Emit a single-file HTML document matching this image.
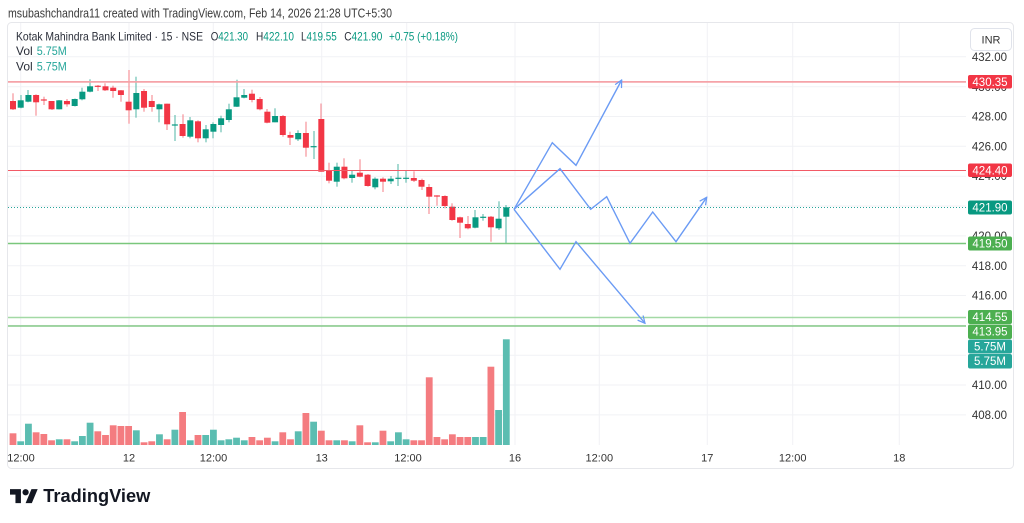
<!DOCTYPE html>
<html>
<head>
<meta charset="utf-8">
<style>
  html,body{margin:0;padding:0;background:#fff;}
  body{width:1024px;height:523px;overflow:hidden;}
  svg{display:block;font-family:"Liberation Sans",sans-serif;}
</style>
</head>
<body>
<svg id="c" width="1024" height="523" viewBox="0 0 1024 523" xmlns="http://www.w3.org/2000/svg">
  <defs>
    <marker id="ah" viewBox="0 0 10 10" refX="9" refY="5" markerWidth="9" markerHeight="9" markerUnits="userSpaceOnUse" orient="auto">
      <path d="M1,1 L9,5 L1,9" fill="none" stroke="#6b9bf4" stroke-width="1.4"/>
    </marker>
  </defs>
  <rect width="1024" height="523" fill="#fff"/>

  <!-- header -->
  <text x="8" y="17.5" font-size="12.5" fill="#3a3a3a" textLength="384" lengthAdjust="spacingAndGlyphs">msubashchandra11 created with TradingView.com, Feb 14, 2026 21:28 UTC+5:30</text>

  <!-- frame -->
  <rect x="7.5" y="22.5" width="1006" height="446" rx="4" fill="none" stroke="#e6e7eb" stroke-width="1"/>

  <!-- grid -->
  <g id="grid" stroke="#f1f2f5" stroke-width="1"></g>

  <!-- volume + candles -->
  <g id="vol"></g>
  <g id="candles"></g>

  <!-- price lines -->
  <line x1="8" y1="81.9" x2="966" y2="81.9" stroke="#f5a3a8" stroke-width="1.8"/>
  <line x1="8" y1="170.5" x2="966" y2="170.5" stroke="#f25a66" stroke-width="1"/>
  <line x1="8" y1="207.5" x2="966" y2="207.5" stroke="#26a69a" stroke-width="1" stroke-dasharray="1,2"/>
  <line x1="8" y1="243.5" x2="966" y2="243.5" stroke="#7ac77c" stroke-width="1.5"/>
  <line x1="8" y1="317.5" x2="966" y2="317.5" stroke="#a3d9a5" stroke-width="1.5"/>
  <line x1="8" y1="326" x2="966" y2="326" stroke="#6cbf6f" stroke-width="1.2"/>

  <!-- projection paths -->
  <g fill="none" stroke="#6b9bf4" stroke-width="1.4" stroke-linejoin="miter">
    <polyline points="514,209.3 552.3,142.7 576,165.3 621.7,80" marker-end="url(#ah)"/>
    <polyline points="514,209.3 560,168.7 590.7,209.3 606.7,196.7 630,243.3 652.7,212 676,241.7 706.7,197.3" marker-end="url(#ah)"/>
    <polyline points="514,209.3 560,269.3 576,241.7 645,323.3" marker-end="url(#ah)"/>
  </g>

  <!-- legend -->
  <g font-size="12" fill="#2a2e39">
    <text x="16" y="40.5" textLength="187" lengthAdjust="spacingAndGlyphs">Kotak Mahindra Bank Limited · 15 · NSE</text>
    <text x="210.7" y="40.5" textLength="37.3" lengthAdjust="spacingAndGlyphs">O<tspan fill="#089981">421.30</tspan></text>
    <text x="256" y="40.5" textLength="38" lengthAdjust="spacingAndGlyphs">H<tspan fill="#089981">422.10</tspan></text>
    <text x="301" y="40.5" textLength="35.7" lengthAdjust="spacingAndGlyphs">L<tspan fill="#089981">419.55</tspan></text>
    <text x="344.3" y="40.5" textLength="38" lengthAdjust="spacingAndGlyphs">C<tspan fill="#089981">421.90</tspan></text>
    <text x="389" y="40.5" fill="#089981" textLength="69" lengthAdjust="spacingAndGlyphs">+0.75 (+0.18%)</text>
    <text x="16" y="55">Vol</text>
    <text x="36.7" y="55" fill="#26a69a" textLength="30" lengthAdjust="spacingAndGlyphs">5.75M</text>
    <text x="16" y="70.5">Vol</text>
    <text x="36.7" y="70.5" fill="#26a69a" textLength="30" lengthAdjust="spacingAndGlyphs">5.75M</text>
  </g>

  <!-- price axis labels -->
  <g font-size="11.5" fill="#333" text-anchor="end">
    <text x="1007" y="61">432.00</text>
    <text x="1007" y="90.8">430.00</text>
    <text x="1007" y="120.6">428.00</text>
    <text x="1007" y="150.4">426.00</text>
    <text x="1007" y="180.2">424.00</text>
    <text x="1007" y="240">420.00</text>
    <text x="1007" y="269.8">418.00</text>
    <text x="1007" y="299.6">416.00</text>
    <text x="1007" y="389.1">410.00</text>
    <text x="1007" y="419">408.00</text>
  </g>

  <!-- INR button -->
  <rect x="970.5" y="28.5" width="41" height="22" rx="4" fill="#fff" stroke="#e0e3eb"/>
  <text x="991" y="43.5" font-size="11" fill="#333" text-anchor="middle">INR</text>

  <!-- price tags -->
  <g font-size="11.5" fill="#fff" text-anchor="middle">
    <rect x="968" y="75" width="44" height="13.5" rx="2" fill="#f23645"/>
    <text x="990" y="85.8">430.35</text>
    <rect x="968" y="163.5" width="44" height="13.5" rx="2" fill="#f23645"/>
    <text x="990" y="174.3">424.40</text>
    <rect x="968" y="200.5" width="44" height="14" rx="2" fill="#089981"/>
    <text x="990" y="211.5">421.90</text>
    <rect x="968" y="236.5" width="44" height="14" rx="2" fill="#4caf50"/>
    <text x="990" y="247.5">419.50</text>
    <rect x="968" y="310" width="44" height="14" rx="2" fill="#4caf50"/>
    <text x="990" y="321">414.55</text>
    <rect x="968" y="324.5" width="44" height="14.5" rx="2" fill="#4caf50"/>
    <text x="990" y="335.5">413.95</text>
    <rect x="968" y="339.5" width="44" height="14" rx="2" fill="#26a69a"/>
    <text x="990" y="350.5">5.75M</text>
    <rect x="968" y="354" width="44" height="14.5" rx="2" fill="#26a69a"/>
    <text x="990" y="365">5.75M</text>
  </g>

  <!-- time axis -->
  <g font-size="11" fill="#333" text-anchor="middle">
    <text x="21" y="461.5">12:00</text>
    <text x="129" y="461.5">12</text>
    <text x="213.5" y="461.5">12:00</text>
    <text x="321.7" y="461.5">13</text>
    <text x="408" y="461.5">12:00</text>
    <text x="515" y="461.5">16</text>
    <text x="599.3" y="461.5">12:00</text>
    <text x="707.3" y="461.5">17</text>
    <text x="792.7" y="461.5">12:00</text>
    <text x="899.3" y="461.5">18</text>
  </g>

  <!-- TradingView logo -->
  <g transform="translate(10,486) scale(0.78)" fill="#131722">
    <path d="M14 22H7V11H0V4h14v18zM28 22h-8l7.5-18h8L28 22z"/>
    <circle cx="20" cy="8" r="4"/>
  </g>
  <text x="43.3" y="502" font-size="18" font-weight="bold" fill="#131722" textLength="107" lengthAdjust="spacingAndGlyphs">TradingView</text>
</svg>

<script>
(function(){
  var NS="http://www.w3.org/2000/svg";
  function el(tag, attrs, parent){
    var e=document.createElementNS(NS,tag);
    for(var k in attrs) e.setAttribute(k, attrs[k]);
    parent.appendChild(e); return e;
  }
  var grid=document.getElementById('grid');
  var hy=[56.8,86.7,116.5,146.3,176.2,206,235.9,265.7,295.5,325.4,355.2,385,414.9];
  hy.forEach(function(y){ el('line',{x1:8,x2:966,y1:y,y2:y},grid); });
  var vx=[20.7,129,213.3,321.7,406.7,515,599.3,707.3,792.7,899.3];
  vx.forEach(function(x){ el('line',{x1:x,x2:x,y1:23,y2:445},grid); });

  var D=[
  ['r',101,109.3,93.3,110,433.3],
  ['g',100.3,107.7,95,108.3,441.3],
  ['g',95,101.7,90,102.3,423.7],
  ['r',95,102.3,94.3,115.7,432.3],
  ['r',100,100,96.7,105,434],
  ['r',101,109.3,101,110,440.3],
  ['g',100.3,109.3,100,109.5,439.3],
  ['r',101,104.3,99,106.7,439.3],
  ['g',99,106,98.5,106.5,441.3],
  ['g',91.7,99.3,87.7,100.3,436],
  ['g',86.3,91.7,79.3,92.3,422.7],
  ['r',86.3,86.3,85,91,431.3],
  ['r',86.3,90.3,83.3,91,435],
  ['r',87.7,91,85.7,97.7,425.3],
  ['r',90.3,95,90,101.7,426],
  ['r',101.7,110.3,70,123.7,426],
  ['g',93,109.3,76.7,117.7,430.3],
  ['r',91,107.7,89,111.7,442.3],
  ['r',101,107,95,111.7,441.3],
  ['g',104.3,109.3,103.7,122.3,434.3],
  ['r',103.7,124.3,103.7,130,439.3],
  ['g',125,125,115,141,429.7],
  ['r',124,136,114.3,137.7,412],
  ['g',120.3,136.7,117,138.3,440.3],
  ['r',121.3,138.3,120.3,142.3,435],
  ['g',129.3,138.3,125,142.3,435],
  ['g',124,131.7,122.3,138.3,429.7],
  ['g',118.3,125,115.7,132.3,440.3],
  ['g',109.3,120,103.7,122.3,439.3],
  ['g',97.3,106.7,79.7,107,437.7],
  ['g',95,97.7,89,98.3,440.3],
  ['r',93.7,100,89.7,102.3,437],
  ['r',99,109.3,97,110.3,440.3],
  ['r',111.7,122.7,109,123.3,437.7],
  ['g',116,122.3,108.3,122.3,441.3],
  ['r',116,135,115,136.7,432.3],
  ['r',135,137.7,131.7,145,439.3],
  ['g',133,139.3,130.3,141,431.3],
  ['r',133,147.7,121.7,156.7,413],
  ['g',146.7,146.7,131,159,421.7],
  ['r',119,171.7,103.5,171.7,430.7],
  ['r',170,180.7,162.7,183.3,440.3],
  ['g',166.7,181.7,162.7,186.7,440.3],
  ['r',166.7,178.3,158.3,179.3,440.3],
  ['g',174.7,178,170,182.7,441.3],
  ['r',172.7,176.7,159.3,177.3,425.3],
  ['r',174.7,186,174,186.7,442.3],
  ['g',178.7,187.3,177.3,189.3,442.3],
  ['r',178.7,181.7,177.3,192,430.7],
  ['g',178.7,181.3,176,184,441.3],
  ['g',178.3,178.3,164,186,432.3],
  ['g',178.3,178.3,170.7,182.7,439.3],
  ['r',178,180.7,171.3,182,440.3],
  ['r',180,186.7,178.7,190,440.3],
  ['r',187,196.7,184,214,377.3],
  ['r',196,196,195.3,205.7,437],
  ['r',196,206,195.3,208.3,439.3],
  ['r',206.7,220,203.3,220.7,434.3],
  ['r',217.3,222.7,216.7,238,437],
  ['r',224,228.3,216,229.3,437],
  ['g',217.3,227.7,210,228.3,437],
  ['g',217.3,217.3,214,220.7,437],
  ['r',216.7,227.3,216,241.7,366.7],
  ['g',218.7,228.3,201.3,230,410],
  ['g',207.3,216.7,205,243.3,339.3]
  ];
  var vol=document.getElementById('vol');
  var cg=document.getElementById('candles');
  var BASE=445;
  D.forEach(function(d,i){
    var x=13+7.708*i;
    var up=d[0]==='g';
    el('rect',{x:(x-3.4).toFixed(2),y:d[5],width:6.8,height:(BASE-d[5]).toFixed(2),fill:up?'#5bbdb1':'#f47c80'},vol);
    var wx=Math.round(x)-0.5;
    el('rect',{x:wx,y:d[3],width:1,height:Math.max(1,d[4]-d[3]).toFixed(2),fill:up?'#4fb5a5':'#f47c86'},cg);
    var h=d[2]-d[1];
    var bt=d[1];
    if(h<1.2){h=1.2;bt=d[1]-0.6;}
    el('rect',{x:(x-3).toFixed(2),y:bt.toFixed(2),width:6,height:h.toFixed(2),fill:up?'#089981':'#f23645'},cg);
  });
})();
</script>
</body>
</html>
